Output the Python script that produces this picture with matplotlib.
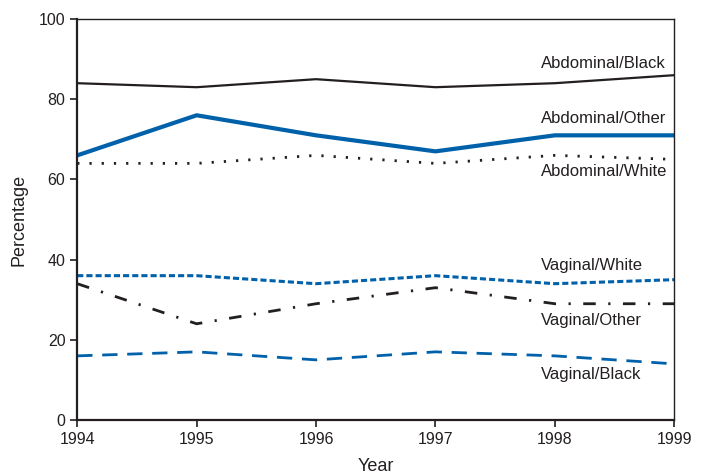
import matplotlib
matplotlib.use("Agg")
import matplotlib.pyplot as plt

# data
years = [1994, 1995, 1996, 1997, 1998, 1999]
abd_black = [84, 83, 85, 83, 84, 86]
abd_other = [66, 76, 71, 67, 71, 71]
abd_white = [64, 64, 66, 64, 66, 65]
vag_white = [36, 36, 34, 36, 34, 35]
vag_other = [34, 24, 29, 33, 29, 29]
vag_black = [16, 17, 15, 17, 16, 14]

labels = ["Abdominal/Black", "Abdominal/Other", "Abdominal/White",
          "Vaginal/White", "Vaginal/Other", "Vaginal/Black"]
label_y = [89.0, 75.1, 61.9, 38.5, 24.8, 11.4]

BLUE = "#0061ab"
BLACK = "#231f20"

plt.rcParams['font.family'] = ['Liberation Sans', 'DejaVu Sans']

fig = plt.figure(figsize=(7.15, 4.76), dpi=100)
ax = fig.add_axes([0.108, 0.1176, 0.835, 0.8424])

ax.plot(years, abd_black, color=BLACK, lw=1.6)
ax.plot(years, abd_other, color=BLUE, lw=3.0)
ax.plot(years, abd_white, color=BLACK, lw=2.0, linestyle=(0, (0.8, 3.6)))
ax.plot(years, vag_white, color=BLUE, lw=2.2, linestyle=(0, (2.0, 1.0)))
ax.plot(years, vag_other, color=BLACK, lw=2.0, linestyle=(0, (4.5, 4.5, 0.8, 4.5)))
ax.plot(years, vag_black, color=BLUE, lw=2.0, linestyle=(0, (5.5, 3.5)))

for lab, yy in zip(labels, label_y):
    ax.text(1997.88, yy, lab, fontsize=12, color=BLACK, va='center', ha='left')

ax.set_xlim(1994, 1999)
ax.set_ylim(0, 100)
ax.set_xticks(years)
ax.set_yticks([0, 20, 40, 60, 80, 100])
ax.tick_params(direction='out', length=5, width=1.2, labelsize=11.5, colors=BLACK)
for s in ax.spines.values():
    s.set_color(BLACK)
    s.set_linewidth(1.0)
ax.spines['left'].set_linewidth(1.6)
ax.spines['bottom'].set_linewidth(1.6)

ax.set_xlabel("Year", fontsize=13, color=BLACK, labelpad=8)
ax.set_ylabel("Percentage", fontsize=13, color=BLACK, labelpad=8)

fig.savefig("out.png", dpi=100)
